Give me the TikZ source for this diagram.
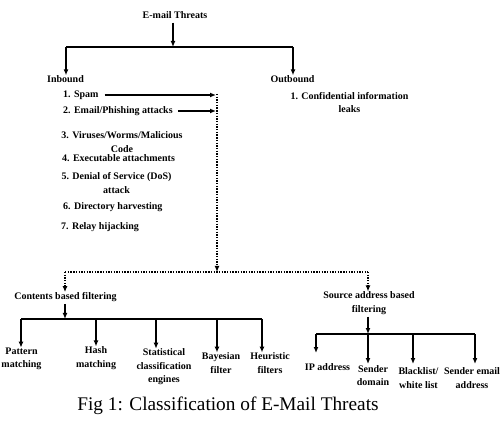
\documentclass[tikz,border=0pt]{standalone}
\usepackage{fontspec}
\setmainfont{Liberation Serif}
\usetikzlibrary{arrows.meta}
\tikzset{
  lbl/.style={font=\bfseries\fontsize{10}{13.5}\selectfont, inner sep=0pt, align=center},
  captext/.style={font=\fontsize{19.3}{21}\selectfont, inner sep=0pt},
  bar/.style={line width=1.4pt},
  solidarrow/.style={line width=1.4pt, -{Latex[length=6pt,width=5pt]}},
  dotline/.style={line width=1.4pt, dash pattern=on 1.4pt off 1.3pt},
  dotarrow/.style={dotline, -{Latex[length=6pt,width=5pt]}}
}
\begin{document}
\begin{tikzpicture}[x=1pt,y=-1pt]
\useasboundingbox (0,0) rectangle (501,422);
% top level
\node[lbl] (top) at (175,15) {E-mail Threats};
\coordinate (tj) at (173,47);
\coordinate (bL) at (66,47);
\coordinate (bR) at (293,47);
\node[lbl] (in) at (65.5,79) {Inbound};
\node[lbl] (out) at (292.5,79) {Outbound};
\draw[solidarrow, shorten <=4pt] (top.south -| tj) -- (tj);
\draw[bar] (bL) -- (bR);
\draw[solidarrow] (bL) -- (bL |- in.north);
\draw[solidarrow] (bR) -- (bR |- out.north);
% inbound items
\node[lbl, anchor=west] (spam) at (63,95) {1. Spam};
\node[lbl, anchor=west] (phish) at (63,111) {2. Email/Phishing attacks};
\node[lbl] (vir) at (122,142) {3. Viruses/Worms/Malicious\\Code};
\node[lbl, anchor=west] (exe) at (62,158) {4. Executable attachments};
\node[lbl] (dos) at (116.5,183) {5. Denial of Service (DoS)\\attack};
\node[lbl, anchor=west] (dir) at (63,207) {6. Directory harvesting};
\node[lbl, anchor=west] (relay) at (61,227) {7. Relay hijacking};
% outbound item
\node[lbl] (conf) at (349.5,102.5) {1. Confidential information\\leaks};
% connectors to dotted line
\coordinate (d0) at (217,94);
\coordinate (d1) at (216,95);
\coordinate (d2) at (216,111);
\coordinate (dbot) at (217,272);
\coordinate (dL) at (65,272);
\coordinate (dR) at (368,272);
\draw[solidarrow, shorten <=6pt] (spam.east) -- (d1);
\draw[solidarrow, shorten <=5pt] (phish.east) -- (d2);
\draw[dotarrow] (d0) -- (dbot);
\draw[dotline] (dL) -- (dR);
% filtering categories
\node[lbl] (cbf) at (65.5,297) {Contents based filtering};
\node[lbl] (sabf) at (369,303) {Source address based\\filtering};
\draw[dotarrow] (dL) -- (dL |- cbf.north);
\draw[dotarrow] (dR) -- (dR |- sabf.north);
% contents based
\coordinate (cJ) at (65,319);
\coordinate (c1) at (21,319);
\coordinate (c2) at (96,319);
\coordinate (c3) at (156,319);
\coordinate (c4) at (217,319);
\coordinate (c5) at (262,319);
\draw[solidarrow, shorten <=2pt] (cbf.south -| cJ) -- (cJ);
\draw[bar] (c1) -- (c5);
\node[lbl] (pat) at (21.5,359) {Pattern\\matching};
\node[lbl] (hash) at (96,358) {Hash\\matching};
\node[lbl] (stat) at (164,367) {Statistical\\classification\\engines};
\node[lbl] (bay) at (221,363) {Bayesian\\filter};
\node[lbl] (heur) at (270,363) {Heuristic\\filters};
\draw[solidarrow] (c1) -- (c1 |- pat.north);
\draw[solidarrow] (c2) -- (c2 |- hash.north);
\draw[solidarrow] (c3) -- (c3 |- stat.north);
\draw[solidarrow] (c4) -- (c4 |- bay.north);
\draw[solidarrow] (c5) -- (c5 |- heur.north);
% source address based
\coordinate (sJ) at (368,334);
\coordinate (s1) at (316,334);
\coordinate (s2) at (368,334);
\coordinate (s3) at (413,334);
\coordinate (s4) at (475,334);
\draw[solidarrow, shorten <=2pt] (sabf.south -| sJ) -- (sJ);
\draw[bar] (s1) -- (s4);
\node[lbl] (ip) at (327.5,367) {IP address};
\node[lbl] (sdom) at (373,375.5) {Sender\\domain};
\node[lbl] (black) at (418.5,378) {Blacklist/\\white list};
\node[lbl] (semail) at (472,378) {Sender email\\address};
\coordinate (t1) at (316,353);
\coordinate (t2) at (368,364);
\coordinate (t3) at (413,364);
\coordinate (t4) at (475,364);
\draw[solidarrow] (s1) -- (t1);
\draw[solidarrow] (s2) -- (t2);
\draw[solidarrow] (s3) -- (t3);
\draw[solidarrow] (s4) -- (t4);
% caption
\node[captext] (caption) at (228,406) {Fig 1: Classification of E-Mail Threats};
\end{tikzpicture}
\end{document}
